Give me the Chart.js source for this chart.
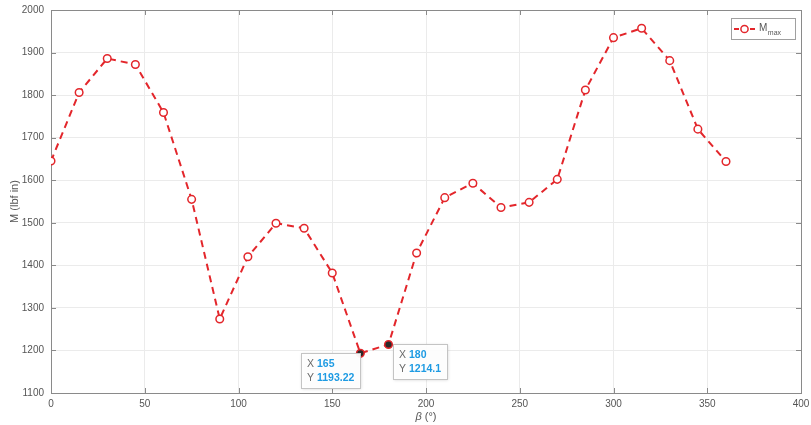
<!DOCTYPE html>
<html>
<head>
<meta charset="utf-8">
<title>M_max vs β</title>
<script src="https://cdn.jsdelivr.net/npm/chart.js@4/dist/chart.umd.min.js"></script>
<style>
  html, body { margin: 0; padding: 0; background: #ffffff; }
  #wrap { width: 811px; height: 425px; }
</style>
</head>
<body>
<div id="wrap"><canvas id="c" width="811" height="425"></canvas></div>
<script>
// Angle β in degrees and maximum bending moment in lbf·in
const beta = [0, 15, 30, 45, 60, 75, 90, 105, 120, 135, 150, 165, 180,
              195, 210, 225, 240, 255, 270, 285, 300, 315, 330, 345, 360];
const moment = [1645, 1806, 1886, 1872, 1759, 1555, 1274, 1420, 1499, 1487, 1382, 1193.22, 1214.1,
                1429, 1559, 1593, 1536, 1548, 1602, 1812, 1935, 1957, 1881, 1720, 1644];

// Tick values for both axes
const xTicks = [0, 50, 100, 150, 200, 250, 300, 350, 400];
const yTicks = [1100, 1200, 1300, 1400, 1500, 1600, 1700, 1800, 1900, 2000];

// Angles that carry a data tip
const tipAngles = [165, 180];

const RED = '#e3262b';
const AXIS = '#8a8a8a';
const TEXT = '#555555';
const FONT = '"Liberation Sans", Arial, sans-serif';

const points = beta.map((b, i) => ({ x: b, y: moment[i] }));
const tipIdx = tipAngles.map(a => beta.indexOf(a));

// Box, inward ticks, axis titles, legend and data tips
const decor = {
  id: 'decor',
  beforeDatasetsDraw(chart) {
    const { ctx, chartArea: a, scales: { x, y } } = chart;
    ctx.save();
    ctx.strokeStyle = AXIS;
    ctx.lineWidth = 1;
    ctx.strokeRect(Math.round(a.left) + 0.5, Math.round(a.top) + 0.5,
                   Math.round(a.right - a.left), Math.round(a.bottom - a.top));
    const L = 5;
    ctx.beginPath();
    xTicks.forEach(v => {
      const px = Math.round(x.getPixelForValue(v)) + 0.5;
      ctx.moveTo(px, a.bottom); ctx.lineTo(px, a.bottom - L);
      ctx.moveTo(px, a.top); ctx.lineTo(px, a.top + L);
    });
    yTicks.forEach(v => {
      const py = Math.round(y.getPixelForValue(v)) + 0.5;
      ctx.moveTo(a.left, py); ctx.lineTo(a.left + L, py);
      ctx.moveTo(a.right, py); ctx.lineTo(a.right - L, py);
    });
    ctx.stroke();
    ctx.restore();
  },
  afterDraw(chart) {
    const { ctx, chartArea: a } = chart;
    ctx.save();

    // x-axis title: italic β followed by unit
    ctx.fillStyle = TEXT;
    ctx.textBaseline = 'middle';
    const cx = (a.left + a.right) / 2;
    ctx.font = 'italic 11px ' + FONT;
    const wB = ctx.measureText('β').width;
    ctx.font = '11px ' + FONT;
    const wU = ctx.measureText(' (°)').width;
    const sx = cx - (wB + wU) / 2;
    ctx.textAlign = 'left';
    ctx.font = 'italic 11px ' + FONT;
    ctx.fillText('β', sx, 417);
    ctx.font = '11px ' + FONT;
    ctx.fillText(' (°)', sx + wB, 417);

    // y-axis title
    ctx.save();
    ctx.translate(15, (a.top + a.bottom) / 2);
    ctx.rotate(-Math.PI / 2);
    ctx.textAlign = 'center';
    ctx.font = '11px ' + FONT;
    ctx.fillText('M (lbf in)', 0, 0);
    ctx.restore();

    // legend
    const lx = 731, ly = 18, lw = 64, lh = 21;
    ctx.fillStyle = '#ffffff';
    ctx.fillRect(lx, ly, lw, lh);
    ctx.strokeStyle = '#a0a0a0';
    ctx.lineWidth = 1;
    ctx.strokeRect(lx + 0.5, ly + 0.5, lw, lh);
    const my = ly + lh / 2 + 0.5;
    ctx.strokeStyle = RED;
    ctx.lineWidth = 2;
    ctx.setLineDash([5, 3]);
    ctx.beginPath();
    ctx.moveTo(lx + 3, my); ctx.lineTo(lx + 24, my);
    ctx.stroke();
    ctx.setLineDash([]);
    ctx.lineWidth = 1.5;
    ctx.fillStyle = '#ffffff';
    ctx.beginPath();
    ctx.arc(lx + 13.5, my, 3.6, 0, Math.PI * 2);
    ctx.fill(); ctx.stroke();
    ctx.fillStyle = TEXT;
    ctx.textAlign = 'left';
    ctx.textBaseline = 'alphabetic';
    ctx.font = '10px ' + FONT;
    ctx.fillText('M', lx + 28, my + 2);
    const wM = ctx.measureText('M').width;
    ctx.font = '7px ' + FONT;
    ctx.fillText('max', lx + 28 + wM + 0.5, my + 6);

    // data tips
    const meta = chart.getDatasetMeta(0);
    tipIdx.forEach((idx, k) => {
      const el = meta.data[idx];
      const rows = [['X', String(beta[idx])], ['Y', String(moment[idx])]];
      ctx.font = 'bold 10.5px ' + FONT;
      const vw = Math.max(...rows.map(r => ctx.measureText(r[1]).width));
      const bw = Math.round(vw + 22);
      const bh = 35;
      const bx = k === 0 ? Math.round(el.x) - bw : Math.round(el.x) + 4;
      const by = Math.round(el.y);
      ctx.save();
      ctx.shadowColor = 'rgba(0,0,0,0.18)';
      ctx.shadowBlur = 3;
      ctx.shadowOffsetX = 1;
      ctx.shadowOffsetY = 1;
      ctx.fillStyle = 'rgba(255,255,255,0.95)';
      ctx.fillRect(bx, by, bw, bh);
      ctx.restore();
      ctx.strokeStyle = '#c4c4c4';
      ctx.lineWidth = 1;
      ctx.strokeRect(bx + 0.5, by + 0.5, bw, bh);
      ctx.textBaseline = 'middle';
      rows.forEach((r, j) => {
        const ty = by + 11 + j * 14;
        ctx.font = '10.5px ' + FONT;
        ctx.fillStyle = '#6a6a6a';
        ctx.fillText(r[0], bx + 6, ty);
        ctx.font = 'bold 10.5px ' + FONT;
        ctx.fillStyle = '#1e9be3';
        ctx.fillText(r[1], bx + 16, ty);
      });
    });
    ctx.restore();
  }
};

new Chart(document.getElementById('c'), {
  type: 'scatter',
  data: {
    datasets: [{
      label: 'M_max',
      data: points,
      showLine: true,
      borderColor: RED,
      borderWidth: 2,
      borderDash: [7, 5],
      tension: 0,
      pointStyle: 'circle',
      pointRadius: 3.8,
      pointBorderWidth: 1.5,
      pointBorderColor: RED,
      pointBackgroundColor: beta.map((b, i) => tipIdx.includes(i) ? '#2a2a2a' : '#ffffff'),
      pointHoverRadius: 3.8
    }]
  },
  options: {
    responsive: false,
    animation: false,
    events: [],
    layout: { padding: { top: 10, right: 10, left: 0, bottom: 0 } },
    plugins: {
      legend: { display: false },
      tooltip: { enabled: false }
    },
    scales: {
      x: {
        type: 'linear',
        min: 0, max: 400,
        afterBuildTicks: s => { s.ticks = xTicks.map(v => ({ value: v })); },
        afterFit: s => { s.height = 32; s.paddingLeft = 0; s.paddingRight = 0; },
        grid: { color: '#ebebeb', drawTicks: false },
        border: { display: false },
        ticks: { color: TEXT, font: { family: FONT, size: 10 }, padding: 5, maxRotation: 0,
                 callback: v => String(v) }
      },
      y: {
        type: 'linear',
        min: 1100, max: 2000,
        afterBuildTicks: s => { s.ticks = yTicks.map(v => ({ value: v })); },
        afterFit: s => { s.width = 51; s.paddingTop = 0; s.paddingBottom = 0; },
        grid: { color: '#ebebeb', drawTicks: false },
        border: { display: false },
        ticks: { color: TEXT, font: { family: FONT, size: 10 }, padding: 7,
                 callback: v => String(v) }
      }
    }
  },
  plugins: [decor]
});
</script>
</body>
</html>
